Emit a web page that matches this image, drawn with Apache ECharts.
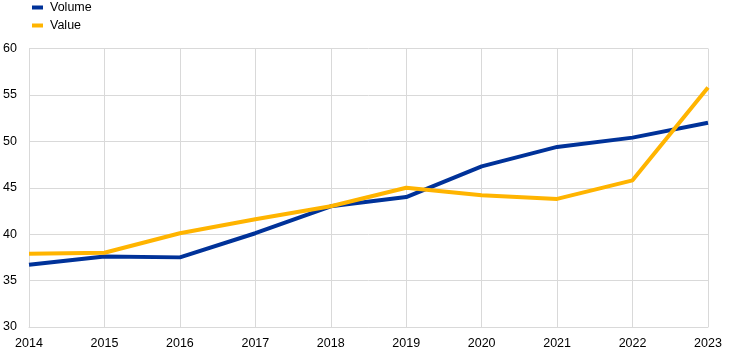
<!DOCTYPE html>
<html><head><meta charset="utf-8">
<script src="https://cdn.jsdelivr.net/npm/echarts@6/dist/echarts.min.js"></script>
<style>html,body{margin:0;padding:0;background:#fff}#c{width:745px;height:354px}</style>
</head><body><div id="c"></div>
<script>
const years = ['2014','2015','2016','2017','2018','2019','2020','2021','2022','2023'];
const volume = [36.7, 37.6, 37.5, 40.1, 43.0, 44.0, 47.3, 49.4, 50.4, 52.0];
const value = [37.9, 38.0, 40.1, 41.6, 43.0, 45.0, 44.2, 43.8, 45.8, 55.8];
const yTicks = {min: 30, max: 60, interval: 5};

const chart = echarts.init(document.getElementById('c'), null, {renderer: 'canvas'});
const font = 'Liberation Sans, Arial, sans-serif';
chart.setOption({
  animation: false,
  textStyle: {fontFamily: font},
  legend: {
    orient: 'vertical', left: 27, top: -4,
    itemWidth: 11, itemHeight: 4, itemGap: 5,
    icon: 'rect',
    textStyle: {fontFamily: font, fontSize: 12.5, color: '#000', padding: [0,0,0,2]},
    data: ['Volume', 'Value']
  },
  grid: {left: 29, right: 37, top: 48.5, bottom: 27, containLabel: false},
  xAxis: {
    type: 'category', data: years, boundaryGap: false,
    axisLine: {lineStyle: {color: '#d9d9d9', width: 1}},
    axisTick: {show: false},
    axisLabel: {color: '#000', fontFamily: font, fontSize: 12.5, margin: 10},
    splitLine: {show: true, lineStyle: {color: '#d9d9d9', width: 1}}
  },
  yAxis: {
    type: 'value', min: yTicks.min, max: yTicks.max, interval: yTicks.interval,
    axisLine: {show: true, lineStyle: {color: '#d9d9d9', width: 1}},
    axisTick: {show: false},
    axisLabel: {color: '#000', fontFamily: font, fontSize: 12.5, margin: 12},
    splitLine: {show: true, lineStyle: {color: '#d9d9d9', width: 1}}
  },
  series: [
    {name: 'Volume', type: 'line', data: volume, symbol: 'none', color: '#003299',
     lineStyle: {width: 4, color: '#003299'}},
    {name: 'Value', type: 'line', data: value, symbol: 'none', color: '#ffb400',
     lineStyle: {width: 4, color: '#ffb400'}}
  ]
});
</script></body></html>
